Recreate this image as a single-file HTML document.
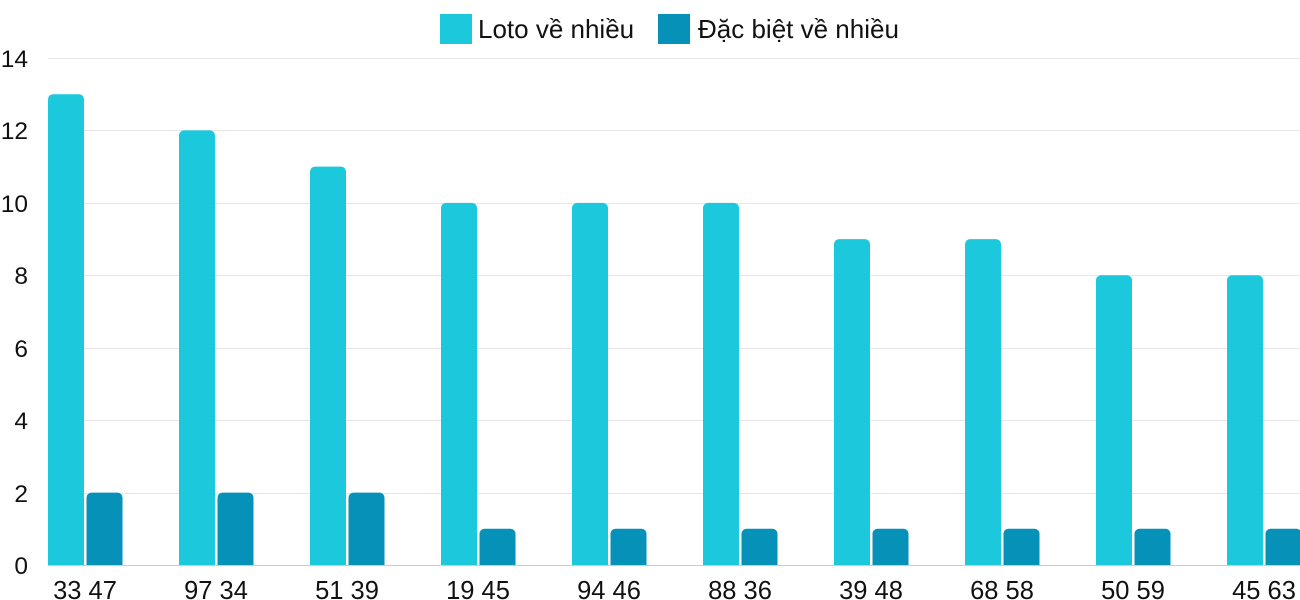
<!DOCTYPE html>
<html><head><meta charset="utf-8"><style>
html,body{margin:0;padding:0;background:#fff;}
svg{display:block;font-family:"Liberation Sans",sans-serif;}
</style></head><body>
<svg width="1300" height="600" viewBox="0 0 1300 600">
<g stroke="#e6e6e6" stroke-width="1">
<line x1="48" x2="1300" y1="58.5" y2="58.5"/>
<line x1="48" x2="1300" y1="130.5" y2="130.5"/>
<line x1="48" x2="1300" y1="203.5" y2="203.5"/>
<line x1="48" x2="1300" y1="275.5" y2="275.5"/>
<line x1="48" x2="1300" y1="348.5" y2="348.5"/>
<line x1="48" x2="1300" y1="420.5" y2="420.5"/>
<line x1="48" x2="1300" y1="493.5" y2="493.5"/>
</g>
<g font-size="24.5" fill="#111" text-anchor="end">
<text x="28" y="67">14</text><text x="28" y="139">12</text><text x="28" y="212">10</text>
<text x="28" y="284">8</text><text x="28" y="357">6</text><text x="28" y="429">4</text>
<text x="28" y="502">2</text><text x="28" y="574">0</text>
</g>
<g fill="#1bc8dc">
<rect x="48" y="94.2" width="36" height="477" rx="5"/>
<rect x="179" y="130.4" width="36" height="441" rx="5"/>
<rect x="310" y="166.6" width="36" height="405" rx="5"/>
<rect x="441" y="202.9" width="36" height="369" rx="5"/>
<rect x="572" y="202.9" width="36" height="369" rx="5"/>
<rect x="703" y="202.9" width="36" height="369" rx="5"/>
<rect x="834" y="239.1" width="36" height="333" rx="5"/>
<rect x="965" y="239.1" width="36" height="333" rx="5"/>
<rect x="1096" y="275.3" width="36" height="297" rx="5"/>
<rect x="1227" y="275.3" width="36" height="297" rx="5"/>
</g>
<g fill="#0591b8">
<rect x="86.5" y="492.6" width="36" height="80" rx="5"/>
<rect x="217.5" y="492.6" width="36" height="80" rx="5"/>
<rect x="348.5" y="492.6" width="36" height="80" rx="5"/>
<rect x="479.5" y="528.8" width="36" height="44" rx="5"/>
<rect x="610.5" y="528.8" width="36" height="44" rx="5"/>
<rect x="741.5" y="528.8" width="36" height="44" rx="5"/>
<rect x="872.5" y="528.8" width="36" height="44" rx="5"/>
<rect x="1003.5" y="528.8" width="36" height="44" rx="5"/>
<rect x="1134.5" y="528.8" width="36" height="44" rx="5"/>
<rect x="1265.5" y="528.8" width="36" height="44" rx="5"/>
</g>
<rect x="40" y="566" width="1260" height="10" fill="#fff"/>
<line x1="48" x2="1300" y1="565.5" y2="565.5" stroke="#ccc"/>
<g font-size="25.5" fill="#111" text-anchor="middle">
<text x="85" y="599">33 47</text><text x="216" y="599">97 34</text><text x="347" y="599">51 39</text>
<text x="478" y="599">19 45</text><text x="609" y="599">94 46</text><text x="740" y="599">88 36</text>
<text x="871" y="599">39 48</text><text x="1002" y="599">68 58</text><text x="1133" y="599">50 59</text>
<text x="1264" y="599">45 63</text>
</g>
<rect x="440" y="14" width="32" height="30" fill="#1bc8dc"/>
<text x="478" y="38" font-size="26" fill="#111">Loto về nhiều</text>
<rect x="658" y="14" width="32" height="30" fill="#0591b8"/>
<text x="698" y="38" font-size="26" fill="#111">Đặc biệt về nhiều</text>
</svg>
</body></html>
